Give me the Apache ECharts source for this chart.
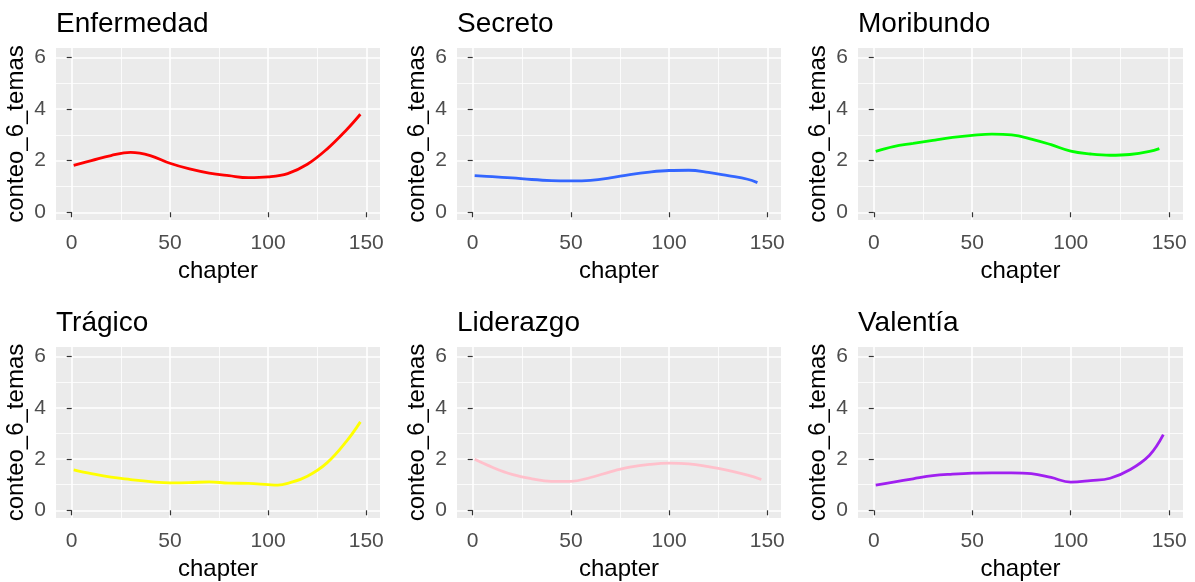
<!DOCTYPE html>
<html>
<head>
<meta charset="utf-8">
<script src="https://cdn.jsdelivr.net/npm/echarts@6/dist/echarts.min.js"></script>
<style>
  html, body { margin: 0; padding: 0; background: #fff; }
  #chart { width: 1195px; height: 582px; }
</style>
</head>
<body>
<div id="chart"></div>
<script>
// titulos de los paneles y colores
const temas = ['Enfermedad', 'Secreto', 'Moribundo', 'Trágico', 'Liderazgo', 'Valentía'];
const colores = ['#FF0000', '#3366FF', '#00FF00', '#FFFF00', '#FFC0CB', '#A020F0'];

const enfermedadCap = [1, 10, 20, 30, 40, 50, 60, 70, 80, 90, 100, 110, 120, 130, 140, 147];
const enfermedadVal = [1.82, 2.0, 2.2, 2.32, 2.2, 1.9, 1.68, 1.52, 1.42, 1.34, 1.37, 1.5, 1.86, 2.45, 3.2, 3.8];

const secretoCap = [1, 10, 20, 30, 40, 50, 60, 70, 80, 90, 100, 110, 120, 130, 140, 145];
const secretoVal = [1.42, 1.38, 1.33, 1.27, 1.23, 1.22, 1.24, 1.33, 1.46, 1.56, 1.62, 1.63, 1.55, 1.42, 1.28, 1.15];

const moribundoCap = [1, 10, 20, 30, 40, 50, 60, 70, 80, 90, 100, 110, 120, 130, 140, 145];
const moribundoVal = [2.36, 2.55, 2.67, 2.79, 2.9, 2.98, 3.03, 3.0, 2.84, 2.62, 2.37, 2.26, 2.21, 2.24, 2.36, 2.47];

const tragicoCap = [1, 10, 20, 30, 40, 50, 60, 70, 80, 90, 100, 105, 110, 120, 130, 140, 147];
const tragicoVal = [1.58, 1.43, 1.29, 1.2, 1.12, 1.07, 1.08, 1.11, 1.06, 1.05, 1.0, 0.98, 1.05, 1.33, 1.85, 2.7, 3.45];

const liderazgoCap = [1, 10, 20, 30, 40, 50, 60, 70, 80, 90, 100, 110, 120, 130, 140, 147];
const liderazgoVal = [1.99, 1.68, 1.4, 1.23, 1.13, 1.13, 1.28, 1.5, 1.68, 1.79, 1.84, 1.81, 1.7, 1.56, 1.37, 1.2];

const valentiaCap = [1, 10, 20, 30, 40, 50, 60, 70, 80, 90, 100, 110, 120, 130, 140, 147];
const valentiaVal = [0.98, 1.1, 1.23, 1.35, 1.41, 1.45, 1.46, 1.46, 1.43, 1.28, 1.1, 1.16, 1.25, 1.58, 2.15, 2.95];

// marcas de los ejes
const xTicks = [0, 50, 100, 150];
const xMinor = [25, 75, 125];
const yTicks = [0, 2, 4, 6];
const yMinor = [1, 3, 5];

const capitulos = [enfermedadCap, secretoCap, moribundoCap, tragicoCap, liderazgoCap, valentiaCap];
const valores = [enfermedadVal, secretoVal, moribundoVal, tragicoVal, liderazgoVal, valentiaVal];

const fuente = '"Liberation Sans", Arial, sans-serif';
const lefts = [56, 457, 858];
const widths = [324, 324, 325];
const tops = [48, 347];
const heights = [172, 171];

const grids = [], xAxes = [], yAxes = [], series = [], titles = [];

temas.forEach(function (tema, i) {
  const col = i % 3;
  const row = Math.floor(i / 3);

  grids.push({
    left: lefts[col], top: tops[row], width: widths[col], height: heights[row],
    show: true, backgroundColor: '#EBEBEB', borderWidth: 0
  });

  titles.push({
    text: tema,
    left: lefts[col],
    top: tops[row] - 38,
    padding: 0,
    textStyle: { fontFamily: fuente, fontSize: 28, fontWeight: 'normal', color: '#000' }
  });

  // eje principal x
  xAxes.push({
    type: 'value', gridIndex: i, min: -8, max: 157,
    name: 'chapter', nameLocation: 'middle', nameGap: 39,
    nameTextStyle: { fontFamily: fuente, fontSize: 24, color: '#000' },
    axisLine: { show: false },
    axisTick: { show: true, length: 5, customValues: xTicks, lineStyle: { color: '#333', width: 1.2 } },
    axisLabel: { customValues: xTicks, margin: 13, fontFamily: fuente, fontSize: 21, color: '#4D4D4D' },
    splitLine: { show: true, lineStyle: { color: '#fff', width: 1.6 } }
  });
  // lineas menores x
  xAxes.push({
    type: 'value', gridIndex: i, min: -8, max: 157,
    axisLine: { show: false },
    axisTick: { show: false, customValues: xMinor },
    axisLabel: { show: false, customValues: xMinor },
    splitLine: { show: true, lineStyle: { color: '#fff', width: 0.8 } }
  });

  yAxes.push({
    type: 'value', gridIndex: i, min: -0.3, max: 6.37,
    name: 'conteo_6_temas', nameLocation: 'middle', nameGap: 28, nameRotate: 90,
    nameTextStyle: { fontFamily: fuente, fontSize: 24, color: '#000' },
    axisLine: { show: false },
    axisTick: { show: true, length: 5, customValues: yTicks, lineStyle: { color: '#333', width: 1.2 } },
    axisLabel: { customValues: yTicks, margin: 10, fontFamily: fuente, fontSize: 21, color: '#4D4D4D' },
    splitLine: { show: true, lineStyle: { color: '#fff', width: 1.6 } }
  });
  yAxes.push({
    type: 'value', gridIndex: i, min: -0.3, max: 6.37,
    axisLine: { show: false },
    axisTick: { show: false, customValues: yMinor },
    axisLabel: { show: false, customValues: yMinor },
    splitLine: { show: true, lineStyle: { color: '#fff', width: 0.8 } }
  });

  series.push({
    name: tema,
    type: 'line',
    xAxisIndex: i * 2,
    yAxisIndex: i * 2,
    data: capitulos[i].map(function (c, k) { return [c, valores[i][k]]; }),
    smooth: 0.4,
    showSymbol: false,
    lineStyle: { color: colores[i], width: 2.8 },
    itemStyle: { color: colores[i] },
    z: 5
  });
});

const chart = echarts.init(document.getElementById('chart'));
chart.setOption({
  animation: false,
  backgroundColor: '#fff',
  title: titles,
  grid: grids,
  xAxis: xAxes,
  yAxis: yAxes,
  series: series
});
</script>
</body>
</html>
